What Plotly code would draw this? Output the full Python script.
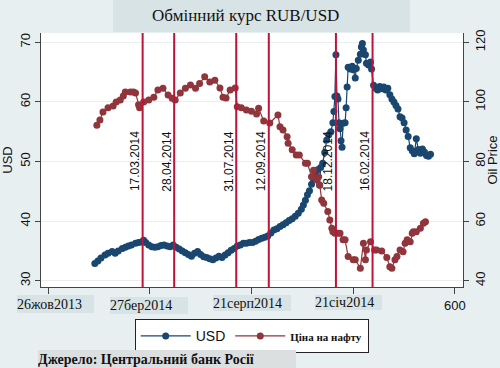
import plotly.graph_objects as go

# ---- data ----
usd_x = [246, 249, 252, 256, 259, 263, 266, 269, 273, 276,
         279, 282, 286, 289, 292, 294, 296, 299, 302, 305,
         308, 311, 314, 317, 320, 323, 326, 329, 332, 335,
         338, 341, 344, 347, 350, 353, 356, 359, 362, 365,
         368, 371, 374, 377, 380, 383, 386, 389, 392, 395,
         398, 401, 404, 407, 410, 413, 416, 419, 422, 425,
         428, 431, 434, 437, 440, 443, 446, 449, 451, 453,
         455, 457, 459, 461, 463, 465, 467, 468, 470, 472,
         474, 476, 478, 480, 481, 482, 483, 484, 485, 486,
         487, 488, 489, 490, 492, 493, 494, 495, 497, 499,
         500, 502, 503, 505, 507, 508, 509, 510, 512, 513,
         515, 517, 518, 520, 522, 524, 526, 528, 530, 532,
         534, 536, 538, 540, 542, 544, 546, 548, 550, 552,
         554, 556, 558, 560, 562, 564, 566, 568, 570, 572,
         574, 576]
usd_y = [32.9, 33.3, 33.8, 34.3, 34.6, 34.9, 34.6, 35.0, 35.4, 35.6,
         35.8, 36.0, 36.3, 36.4, 36.5, 36.8, 36.4, 36.0, 35.7, 35.6,
         35.7, 35.9, 36.0, 35.8, 35.7, 36.0, 35.6, 35.3, 35.0, 34.7,
         34.4, 34.1, 34.6, 34.9, 34.4, 34.0, 33.9, 33.7, 33.5, 33.8,
         34.1, 33.9, 34.3, 34.7, 35.1, 35.4, 35.8, 36.0, 36.3, 36.3,
         36.4, 36.4, 36.6, 36.9, 37.1, 37.3, 37.5, 38.0, 38.5, 38.7,
         39.1, 39.4, 39.7, 40.1, 40.4, 40.8, 41.3, 42.0, 42.7, 43.5,
         44.4, 45.1, 46.2, 47.0, 47.8, 48.6, 46.0, 49.0, 49.7, 51.5,
         53.6, 54.5, 55.0, 56.5, 58.4, 60.9, 67.9, 61.0, 60.5, 56.5,
         55.5, 53.5, 52.4, 56.4, 56.5, 59.0, 62.5, 65.8, 65.5, 66.0,
         65.4, 64.0, 65.6, 67.0, 68.0, 69.2, 69.8, 68.7, 67.9, 66.5,
         66.2, 66.7, 65.5, 62.8, 62.3, 62.0, 62.6, 62.2, 62.5, 62.0,
         62.3, 61.2, 60.5, 60.0, 59.4, 58.8, 57.5, 57.3, 56.5, 55.3,
         54.2, 52.3, 51.8, 51.3, 53.8, 52.0, 51.4, 52.1, 51.6, 51.0,
         50.9, 51.2]

oil_x = [248, 251, 254, 259, 264, 267, 271, 274, 276, 281,
         284, 286, 289, 290, 294, 299, 304, 308, 313, 318,
         322, 325, 330, 335, 340, 345, 349, 354, 359, 364,
         369, 372, 375, 379, 384, 386, 390, 395, 400, 405,
         407, 412, 418, 426, 428, 431, 435, 436, 440, 444,
         447, 453, 455, 459, 461, 464, 466, 467, 469, 471,
         475, 477, 479, 480, 482, 485, 487, 490, 492, 495,
         500, 502, 507, 510, 512, 513, 517, 521, 523, 528,
         533, 536, 538, 541, 543, 546, 549, 551, 553, 556,
         558, 559, 562, 566, 569, 571]
oil_y = [92.2, 93.9, 96.6, 98.0, 98.6, 100.0, 100.6, 102.0, 103.3, 103.3,
         103.3, 103.0, 99.0, 98.0, 100.0, 100.6, 101.6, 104.0, 104.6, 102.3,
         101.2, 100.6, 103.0, 104.6, 105.7, 104.6, 106.2, 108.4, 106.7, 107.3,
         104.7, 101.6, 101.3, 104.0, 104.7, 98.4, 98.0, 97.3, 96.9, 95.9,
         97.9, 93.6, 92.9, 95.6, 91.7, 90.6, 88.3, 86.1, 83.9, 82.2,
         82.2, 79.4, 79.4, 74.9, 77.1, 73.8, 74.9, 72.1, 67.1, 66.0,
         63.2, 60.4, 57.6, 56.4, 55.9, 55.9, 55.9, 53.7, 53.7, 48.1,
         47.0, 47.0, 44.2, 52.6, 47.0, 50.3, 53.1, 50.3, 50.3, 50.0,
         47.8, 44.7, 44.2, 47.0, 48.1, 50.3, 49.7, 52.6, 53.7, 53.1,
         55.9, 56.4, 56.4, 57.6, 59.3, 59.8]

event_x = [293, 324, 385, 417, 483, 519]
event_labels = ["17.03.2014", "28.04.2014", "31.07.2014", "12.09.2014", "18.12.2014", "16.02.2014"]

x_ticks = [200, 300, 400, 500, 600]
x_ticktext = ["", "", "", "", "600"]
date_labels = ["26жов2013", "27бер2014", "21серп2014", "21січ2014"]

usd_ticks = [30, 40, 50, 60, 70]
oil_ticks = [40, 60, 80, 100, 120]

# ---- style ----
BLUE = "#1a476f"
RED = "#90353b"
VLINE = "#c0133a"
BG = "#e8eff1"
BOXBG = "#d8e3e5"
SANS = "Liberation Sans, Arial, sans-serif"
SERIF = "Liberation Serif, DejaVu Serif, serif"

W, H = 500, 368
L, R, T, B = 41, 37, 33, 81
PW, PH = W - L - R, H - T - B


def px_x(x):
    return (x - L) / PW


def px_y(y):
    return (H - B - y) / PH


fig = go.Figure()
fig.add_trace(go.Scatter(
    x=usd_x, y=usd_y, name="USD", mode="lines+markers",
    line=dict(color=BLUE, width=1.2), marker=dict(color=BLUE, size=7),
))
fig.add_trace(go.Scatter(
    x=oil_x, y=oil_y, name="<span style='font-family:Liberation Serif;font-size:11px'><b>Ціна на нафту</b></span>",
    mode="lines+markers", yaxis="y2",
    line=dict(color=RED, width=1.2), marker=dict(color=RED, size=7),
))

shapes = []
annotations = []
for ex, lab in zip(event_x, event_labels):
    shapes.append(dict(type="line", xref="x", yref="paper", x0=ex, x1=ex, y0=0, y1=1,
                       line=dict(color=VLINE, width=2), layer="above"))
    annotations.append(dict(x=ex, y=50, xref="x", yref="y", text=lab, textangle=-90,
                            showarrow=False, xanchor="center", yanchor="middle", xshift=-7,
                            font=dict(family=SANS, size=12, color="#111")))

# title box
shapes.append(dict(type="rect", xref="paper", yref="paper",
                   x0=px_x(113), x1=px_x(410), y0=px_y(32), y1=px_y(0),
                   fillcolor=BOXBG, line=dict(width=0), layer="below"))
annotations.append(dict(x=px_x(245), y=px_y(16), xref="paper", yref="paper",
                        text="Обмінний курс RUB/USD", showarrow=False,
                        xanchor="center", yanchor="middle",
                        font=dict(family=SERIF, size=17, color="#111")))

# pasted date labels under x axis
date_boxes = [(16.7, 295, 77, 18), (110, 296.7, 78, 17), (213.3, 295, 78, 16), (315, 295, 67, 15)]
for lab, (bx, by, bw, bh) in zip(date_labels, date_boxes):
    annotations.append(dict(x=px_x(bx), y=px_y(by), xref="paper", yref="paper",
                            text=lab, showarrow=False, xanchor="left", yanchor="top",
                            width=bw, height=bh, align="left", valign="middle",
                            bgcolor=BOXBG, borderpad=0, borderwidth=0,
                            font=dict(family=SERIF, size=14, color="#111")))

# source note
annotations.append(dict(x=px_x(38.3), y=px_y(350), xref="paper", yref="paper",
                        text="<b>Джерело: Центральний банк Росії</b>", showarrow=False,
                        xanchor="left", yanchor="top", width=258, height=18,
                        align="left", valign="middle", bgcolor="#dcdfe0",
                        borderpad=0, borderwidth=0,
                        font=dict(family=SERIF, size=14, color="#111")))

fig.update_layout(
    width=W, height=H,
    margin=dict(l=L, r=R, t=T, b=B, autoexpand=False),
    paper_bgcolor=BG, plot_bgcolor="white",
    showlegend=True,
    legend=dict(orientation="h", x=px_x(251.7), y=px_y(319.3), xanchor="center", yanchor="top",
                bgcolor="white", bordercolor="#222", borderwidth=1,
                font=dict(family=SANS, size=14, color="#111"), itemwidth=50),
    xaxis=dict(range=[193.1, 607.9], tickvals=x_ticks, ticktext=x_ticktext,
               showgrid=False, zeroline=False, showline=True, linecolor="#444", linewidth=1,
               ticks="outside", ticklen=6, tickcolor="#444",
               tickfont=dict(family=SANS, size=13, color="#111")),
    yaxis=dict(range=[28.94, 71.56], tickvals=usd_ticks, tickangle=-90,
               showgrid=True, gridcolor="#eaeef0", zeroline=False,
               showline=True, linecolor="#444", linewidth=1,
               ticks="outside", ticklen=5, tickcolor="#444",
               tickfont=dict(family=SANS, size=13, color="#111"),
               title=dict(text="USD", font=dict(family=SANS, size=13, color="#111"), standoff=6)),
    yaxis2=dict(range=[37.88, 123.12], tickvals=oil_ticks, tickangle=-90, overlaying="y", side="right",
                showgrid=False, zeroline=False, showline=True, linecolor="#444", linewidth=1,
                ticks="outside", ticklen=5, tickcolor="#444",
                tickfont=dict(family=SANS, size=13, color="#111"),
                title=dict(text="Oil Price", font=dict(family=SANS, size=13, color="#111"), standoff=6)),
    shapes=shapes, annotations=annotations,
)

fig.write_html("out.html", config={"displayModeBar": False},
               post_script="document.body.style.margin='0';document.body.style.padding='0';")
